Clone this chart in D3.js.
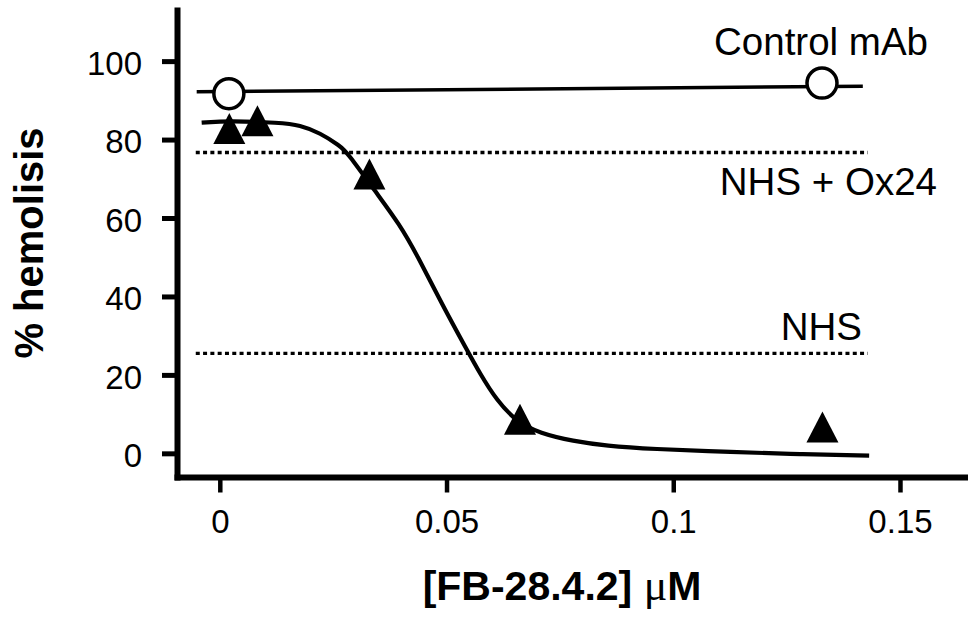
<!DOCTYPE html>
<html>
<head>
<meta charset="utf-8">
<script src="https://cdn.jsdelivr.net/npm/d3@7/dist/d3.min.js"></script>
<style>
  html, body { margin: 0; padding: 0; background: #fff; }
  svg { display: block; }
  text { font-family: "Liberation Sans", Arial, Helvetica, sans-serif; fill: #000; }
</style>
</head>
<body>
<svg id="chart" width="968" height="618"></svg>
<script>
// Inhibition of hemolysis by FB-28.4.2
const triangleX = [0.0021, 0.0083, 0.033, 0.0662, 0.1329];
const triangleY = [82.8, 84.8, 71.2, 8.7, 6.7];

const controlX = [0.0020, 0.1328];
const controlY = [91.7, 94.4];

// fitted line for the control antibody
const controlFitX = [-0.0051, 0.1418];
const controlFitY = [92.2, 93.6];

// fitted dose-response curve for FB-28.4.2
const fitX = [-0.0040, 0.0022, 0.0132, 0.0177, 0.0221, 0.0265, 0.0280, 0.0346, 0.0397, 0.0434, 0.0492, 0.0544, 0.0574, 0.0610, 0.0655, 0.0706, 0.0779, 0.0853, 0.0950, 0.1132, 0.1279, 0.1432];
const fitY = [84.3, 84.8, 84.3, 83.7, 81.7, 78.4, 76.9, 66.3, 58.3, 50.8, 37.6, 26.6, 20.3, 13.6, 8.0, 5.1, 3.1, 1.9, 1.1, 0.3, -0.2, -0.6];

// reference levels (dotted)
const refNames = ["NHS + Ox24", "NHS"];
const refLevels = [76.7, 25.5];
const refRange = [-0.0053, 0.1429];

const xTicks = [0, 0.05, 0.1, 0.15];
const xTickLabels = ["0", "0.05", "0.1", "0.15"];
const yTicks = [0, 20, 40, 60, 80, 100];

const svg = d3.select("#chart");

const x = d3.scaleLinear().domain([-0.0101, 0.165]).range([174, 968]);
const y = d3.scaleLinear().domain([-6.8, 113.8]).range([480, 7]);

// axes
const xAxis = svg.append("g")
  .attr("transform", `translate(0,${477})`)
  .call(d3.axisBottom(x).tickValues(xTicks).tickFormat((d, i) => xTickLabels[i]).tickSize(15.5).tickSizeOuter(0).tickPadding(0));
xAxis.select(".domain").attr("stroke", "#000").attr("stroke-width", 6);
xAxis.selectAll(".tick line").attr("stroke", "#000").attr("stroke-width", 4.5);
xAxis.selectAll(".tick text")
  .attr("y", 56).attr("dy", null)
  .style("font-size", "33px");

const yAxis = svg.append("g")
  .attr("transform", `translate(${177},0)`)
  .call(d3.axisLeft(y).tickValues(yTicks).tickSize(15).tickSizeOuter(0).tickPadding(20));
yAxis.select(".domain").attr("stroke", "#000").attr("stroke-width", 6);
yAxis.selectAll(".tick line").attr("stroke", "#000").attr("stroke-width", 5);
yAxis.selectAll(".tick text").style("font-size", "33px").attr("dy", "0.4em");

svg.selectAll("g").attr("font-family", null).attr("font-size", null);

// axis titles
svg.append("text")
  .attr("transform", `translate(43,243) rotate(-90)`)
  .attr("text-anchor", "middle")
  .style("font-size", "40px").style("font-weight", "bold")
  .text("% hemolisis");

const xt = svg.append("text")
  .attr("x", 562).attr("y", 600)
  .attr("text-anchor", "middle")
  .style("font-size", "41px").style("font-weight", "bold");
xt.append("tspan").text("[FB-28.4.2] ");
xt.append("tspan").style("font-family", "'Liberation Serif', 'Times New Roman', serif").style("font-weight", "normal").style("font-size", "44px").text("μ");
xt.append("tspan").text("M");

// dotted reference lines
svg.selectAll("line.ref").data(refLevels).join("line")
  .attr("class", "ref")
  .attr("x1", x(refRange[0])).attr("x2", x(refRange[1]))
  .attr("y1", d => y(d)).attr("y2", d => y(d))
  .attr("stroke", "#000").attr("stroke-width", 3.3)
  .attr("stroke-dasharray", "4 3.3");

// control fit line
svg.append("path")
  .datum(controlFitX.map((v, i) => [v, controlFitY[i]]))
  .attr("fill", "none").attr("stroke", "#000").attr("stroke-width", 3.5)
  .attr("d", d3.line().x(d => x(d[0])).y(d => y(d[1])));

// dose-response fit
svg.append("path")
  .datum(fitX.map((v, i) => [v, fitY[i]]))
  .attr("fill", "none").attr("stroke", "#000").attr("stroke-width", 4.2)
  .attr("stroke-linejoin", "round")
  .attr("d", d3.line().curve(d3.curveBasis).x(d => x(d[0])).y(d => y(d[1])));

// control markers
svg.selectAll("circle.ctrl").data(controlX.map((v, i) => [v, controlY[i]])).join("circle")
  .attr("class", "ctrl")
  .attr("cx", d => x(d[0])).attr("cy", d => y(d[1]))
  .attr("r", 15)
  .attr("fill", "#fff").attr("stroke", "#000").attr("stroke-width", 3.5);

// triangle markers (bounding box centred on the point)
const triW = 32, triH = 31;
const triSymbol = {
  draw(ctx) {
    ctx.moveTo(0, -triH / 2);
    ctx.lineTo(triW / 2, triH / 2);
    ctx.lineTo(-triW / 2, triH / 2);
    ctx.closePath();
  }
};
svg.selectAll("path.tri").data(triangleX.map((v, i) => [v, triangleY[i]])).join("path")
  .attr("class", "tri")
  .attr("transform", d => `translate(${x(d[0])},${y(d[1])})`)
  .attr("d", d3.symbol(triSymbol)())
  .attr("fill", "#000");

// series labels
svg.append("text").attr("x", 928).attr("y", 55).attr("text-anchor", "end")
  .style("font-size", "38.5px").text("Control mAb");
svg.append("text").attr("x", 937).attr("y", 195).attr("text-anchor", "end")
  .style("font-size", "38.5px").text(refNames[0]);
svg.append("text").attr("x", 862).attr("y", 340).attr("text-anchor", "end")
  .style("font-size", "38.5px").text(refNames[1]);
</script>
</body>
</html>
